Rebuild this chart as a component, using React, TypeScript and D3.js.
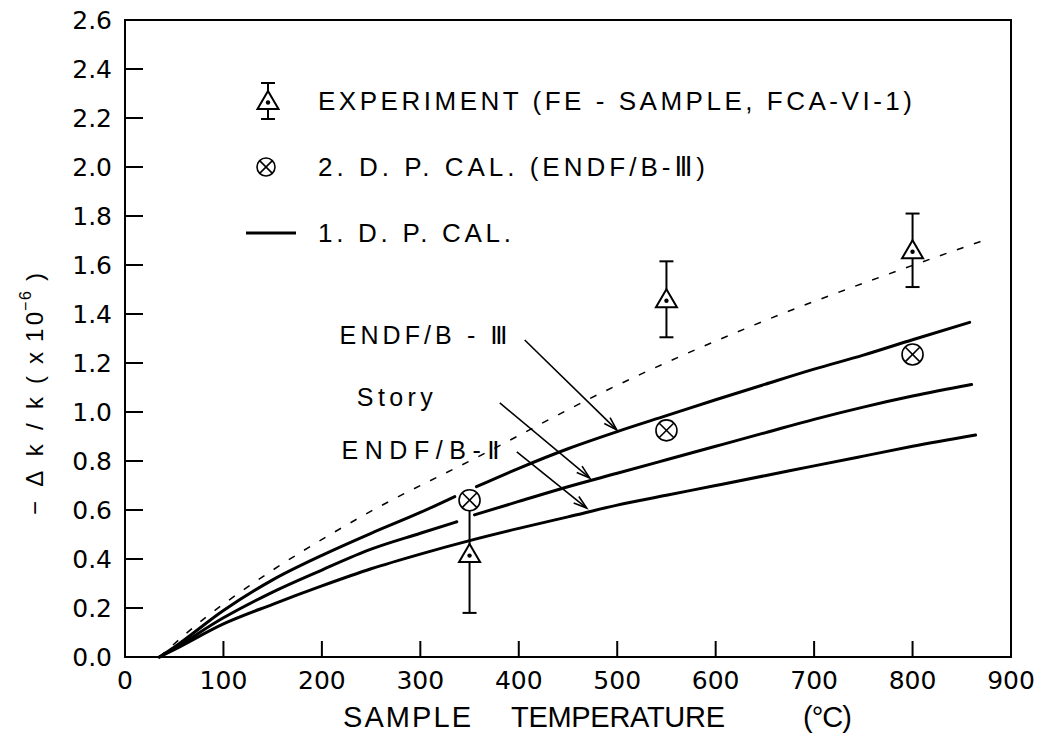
import React from "react";
import * as d3 from "d3";

// ---- axis ticks ----
const TEMP_TICKS = [0, 100, 200, 300, 400, 500, 600, 700, 800, 900];
const DK_TICKS = [0, 0.2, 0.4, 0.6, 0.8, 1.0, 1.2, 1.4, 1.6, 1.8, 2.0, 2.2, 2.4, 2.6];

// ---- 1.D.P. calculation curves (NaN = break in the drawn line) ----
const endfB3Temp = [35, 50, 100, 150, 200, 250, 300, 335, 346, 357, 400, 450, 500, 550, 600, 650, 700, 750, 800, 858];
const endfB3Val = [0, 0.04, 0.19, 0.315, 0.415, 0.505, 0.59, 0.655, NaN, 0.695, 0.77, 0.85, 0.92, 0.985, 1.05, 1.113, 1.175, 1.232, 1.295, 1.366];

const storyTemp = [35, 50, 100, 150, 200, 250, 300, 337, 346, 355, 400, 450, 500, 550, 600, 650, 700, 750, 800, 860];
const storyVal = [0, 0.035, 0.16, 0.265, 0.355, 0.44, 0.505, 0.552, NaN, 0.58, 0.635, 0.695, 0.75, 0.805, 0.86, 0.915, 0.97, 1.02, 1.065, 1.112];

const endfB2Temp = [35, 50, 100, 150, 200, 250, 300, 350, 400, 450, 500, 550, 600, 650, 700, 750, 800, 864];
const endfB2Val = [0, 0.03, 0.135, 0.215, 0.29, 0.36, 0.42, 0.475, 0.525, 0.572, 0.62, 0.66, 0.7, 0.74, 0.78, 0.82, 0.86, 0.906];

// dashed line
const dashedTemp = [35, 83, 120, 240, 360, 490, 636, 790, 872];
const dashedVal = [0, 0.165, 0.273, 0.573, 0.82, 1.09, 1.35, 1.584, 1.7];

// ---- experiment (FE sample, FCA-VI-1) ----
const expTemp = [350, 550, 800];
const expVal = [0.42, 1.46, 1.66];
const expErr = [0.24, 0.155, 0.15];

// ---- 2.D.P. calculation (ENDF/B-III) ----
const dp2Temp = [350, 550, 800];
const dp2Val = [0.64, 0.925, 1.235];

const W = 1038;
const H = 742;

const x = d3.scaleLinear().domain([0, 900]).range([125, 1011]);
const y = d3.scaleLinear().domain([0, 2.6]).range([657, 20]);

const zip = (t: number[], v: number[]) => t.map((tt, i) => ({ t: tt, v: v[i] }));

const lineGen = d3
  .line<{ t: number; v: number }>()
  .defined((d) => !isNaN(d.v))
  .x((d) => x(d.t))
  .y((d) => y(d.v))
  .curve(d3.curveMonotoneX);

const TICK_FONT = "'DejaVu Sans', sans-serif";
const TEXT_FONT = "'Liberation Sans', Arial, sans-serif";
const ROMAN_FONT = "'DejaVu Sans', sans-serif";

function Triangle({ cx, cy }: { cx: number; cy: number }) {
  return (
    <g>
      <path
        d={`M${cx},${cy - 10} L${cx + 10.5},${cy + 8} L${cx - 10.5},${cy + 8} Z`}
        fill="white"
        stroke="black"
        strokeWidth={2}
      />
      <circle cx={cx} cy={cy + 1.5} r={2.2} fill="black" />
    </g>
  );
}

function CrossCircle({ cx, cy, r = 10.5 }: { cx: number; cy: number; r?: number }) {
  const d = r * Math.SQRT1_2;
  return (
    <g stroke="black" strokeWidth={1.6}>
      <circle cx={cx} cy={cy} r={r} fill="white" />
      <line x1={cx - d} y1={cy - d} x2={cx + d} y2={cy + d} />
      <line x1={cx - d} y1={cy + d} x2={cx + d} y2={cy - d} />
    </g>
  );
}

function ErrBar({ cx, top, bottom, cap = 7 }: { cx: number; top: number; bottom: number; cap?: number }) {
  return (
    <g stroke="black" strokeWidth={2}>
      <line x1={cx} y1={top} x2={cx} y2={bottom} />
      <line x1={cx - cap} y1={top} x2={cx + cap} y2={top} />
      <line x1={cx - cap} y1={bottom} x2={cx + cap} y2={bottom} />
    </g>
  );
}

function Arrow({ t0, v0, t1, v1 }: { t0: number; v0: number; t1: number; v1: number }) {
  const x0 = x(t0), y0 = y(v0), x1 = x(t1), y1 = y(v1);
  const ang = Math.atan2(y1 - y0, x1 - x0);
  const len = 14;
  const spread = 0.3;
  const a1 = ang + Math.PI - spread;
  const a2 = ang + Math.PI + spread;
  return (
    <g stroke="black" strokeWidth={1.6} fill="none">
      <line x1={x0} y1={y0} x2={x1} y2={y1} />
      <path
        d={`M${x1 + len * Math.cos(a1)},${y1 + len * Math.sin(a1)} L${x1},${y1} L${x1 + len * Math.cos(a2)},${y1 + len * Math.sin(a2)}`}
      />
    </g>
  );
}

export default function App() {
  const curves = [zip(endfB3Temp, endfB3Val), zip(storyTemp, storyVal), zip(endfB2Temp, endfB2Val)];
  const dashed = zip(dashedTemp, dashedVal);

  return (
    <svg
      width={W}
      height={H}
      viewBox={`0 0 ${W} ${H}`}
      style={{ position: "absolute", left: 0, top: 0, background: "white", display: "block" }}
    >
      <rect x={0} y={0} width={W} height={H} fill="white" />

      {/* frame */}
      <rect x={x(0)} y={y(2.6)} width={x(900) - x(0)} height={y(0) - y(2.6)} fill="none" stroke="black" strokeWidth={2} />

      {/* y ticks */}
      {DK_TICKS.map((v) => (
        <g key={"yt" + v}>
          {v > 0 && v < 2.6 && <line x1={x(0)} x2={x(0) + 18} y1={y(v)} y2={y(v)} stroke="black" strokeWidth={2} />}
          <text x={112} y={y(v)} dy="0.36em" textAnchor="end" fontFamily={TICK_FONT} fontSize={25}>
            {v.toFixed(1)}
          </text>
        </g>
      ))}

      {/* x ticks */}
      {TEMP_TICKS.map((t) => (
        <g key={"xt" + t}>
          {t > 0 && t < 900 && <line x1={x(t)} x2={x(t)} y1={y(0)} y2={y(0) - 16} stroke="black" strokeWidth={2} />}
          <text x={x(t)} y={689} textAnchor="middle" fontFamily={TICK_FONT} fontSize={25}>
            {t}
          </text>
        </g>
      ))}

      {/* axis titles */}
      <text x={343} y={727} fontFamily={TEXT_FONT} fontSize={29} textLength={128} lengthAdjust="spacing">
        SAMPLE
      </text>
      <text x={511} y={727} fontFamily={TEXT_FONT} fontSize={29} textLength={214} lengthAdjust="spacing">
        TEMPERATURE
      </text>
      <text x={803} y={727} fontFamily={TEXT_FONT} fontSize={29} textLength={49} lengthAdjust="spacing">
        (°C)
      </text>

      <g fontFamily={TEXT_FONT} fontSize={24}>
        <text transform="translate(43,456) rotate(-90)" textAnchor="middle" textLength={118} lengthAdjust="spacing">
          −Δk/k
        </text>
        <text transform="translate(43,380) rotate(-90)" textAnchor="middle">(</text>
        <text transform="translate(43,358) rotate(-90)" textAnchor="middle">x</text>
        <text transform="translate(43,327) rotate(-90)" textAnchor="middle" textLength={30} lengthAdjust="spacing">
          10
        </text>
        <text transform="translate(31,301) rotate(-90)" textAnchor="middle" fontSize={16} textLength={20} lengthAdjust="spacing">
          −6
        </text>
        <text transform="translate(43,277) rotate(-90)" textAnchor="middle">)</text>
      </g>

      {/* dashed line */}
      <path d={lineGen(dashed) || ""} fill="none" stroke="black" strokeWidth={1.5} strokeDasharray="7 11" />

      {/* solid curves */}
      {curves.map((c, i) => (
        <path key={"c" + i} d={lineGen(c) || ""} fill="none" stroke="black" strokeWidth={3} strokeLinecap="round" />
      ))}

      {/* experiment points */}
      {expTemp.map((t, i) => (
        <g key={"e" + i}>
          <ErrBar cx={x(t)} top={y(expVal[i] + expErr[i])} bottom={y(expVal[i] - expErr[i])} />
          <Triangle cx={x(t)} cy={y(expVal[i])} />
        </g>
      ))}

      {/* 2DP points */}
      {dp2Temp.map((t, i) => (
        <CrossCircle key={"p" + i} cx={x(t)} cy={y(dp2Val[i])} />
      ))}

      {/* annotations */}
      <text x={x(218)} y={y(1.314)} dy="0.36em" fontFamily={TEXT_FONT} fontSize={25} textLength={168} lengthAdjust="spacing">
        ENDF/B - <tspan fontFamily={ROMAN_FONT}>Ⅲ</tspan>
      </text>
      <text x={x(235.5)} y={y(1.061)} dy="0.36em" fontFamily={TEXT_FONT} fontSize={25} textLength={76} lengthAdjust="spacing">
        Story
      </text>
      <text x={x(220)} y={y(0.845)} dy="0.36em" fontFamily={TEXT_FONT} fontSize={25} textLength={158} lengthAdjust="spacing">
        ENDF/B-<tspan fontFamily={ROMAN_FONT}>Ⅱ</tspan>
      </text>
      <Arrow t0={406} v0={1.294} t1={499.5} v1={0.927} />
      <Arrow t0={380.7} v0={1.037} t1={472} v1={0.731} />
      <Arrow t0={398} v0={0.837} t1={469} v1={0.608} />

      {/* legend */}
      <ErrBar cx={268} top={83} bottom={119} />
      <Triangle cx={268} cy={101} />
      <text x={318} y={101} dy="0.36em" fontFamily={TEXT_FONT} fontSize={26} textLength={594} lengthAdjust="spacing">
        EXPERIMENT (FE - SAMPLE, FCA-VI-1)
      </text>
      <CrossCircle cx={266} cy={167} r={9} />
      <text x={318} y={167} dy="0.36em" fontFamily={TEXT_FONT} fontSize={26} textLength={387} lengthAdjust="spacing">
        2. D. P. CAL. (ENDF/B-<tspan fontFamily={ROMAN_FONT}>Ⅲ</tspan>)
      </text>
      <line x1={246} x2={296} y1={233} y2={233} stroke="black" strokeWidth={3} />
      <text x={318} y={233} dy="0.36em" fontFamily={TEXT_FONT} fontSize={26} textLength={193} lengthAdjust="spacing">
        1. D. P. CAL.
      </text>
    </svg>
  );
}
